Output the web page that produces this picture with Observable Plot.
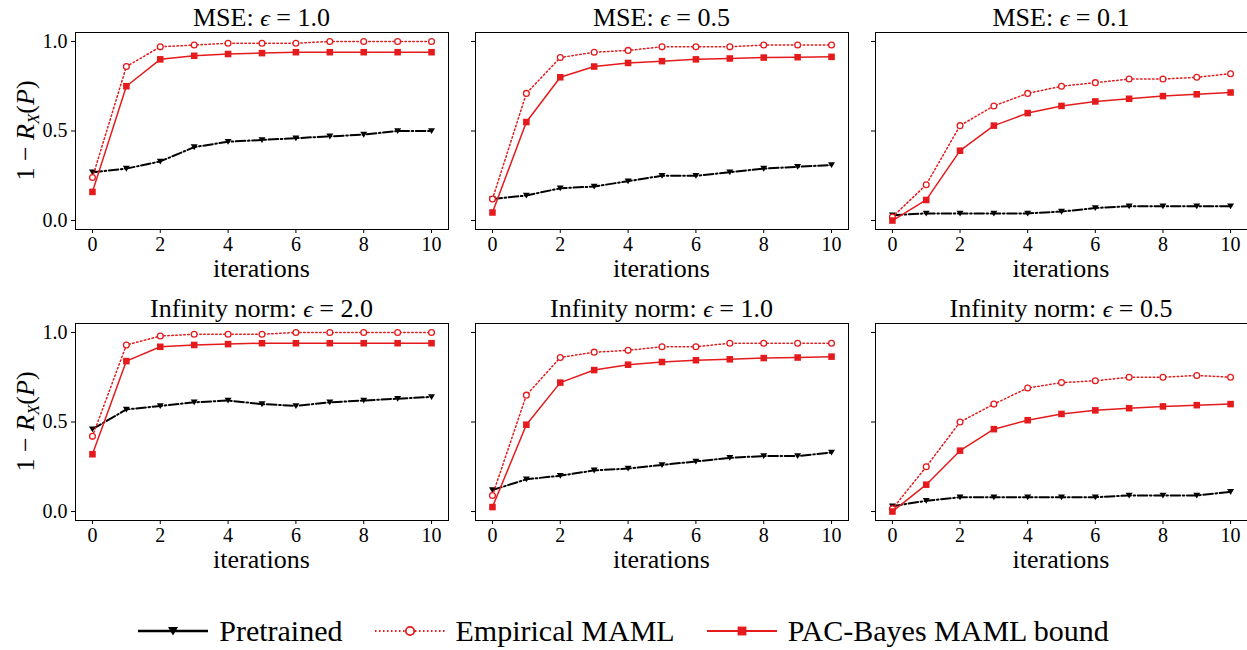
<!DOCTYPE html>
<html><head><meta charset="utf-8">
<script src="https://cdn.jsdelivr.net/npm/d3@7"></script>
<script src="https://cdn.jsdelivr.net/npm/@observablehq/plot@0.6"></script>
<style>
body{margin:0;background:#fff;}
#chart{position:relative;width:1247px;height:650px;font-family:'Liberation Serif',serif;overflow:hidden;}
#chart svg text{font-family:'Liberation Serif',serif;}
#legend{position:absolute;left:0;top:614px;height:34px;width:1247px;display:flex;justify-content:center;align-items:center;font-size:30px;line-height:34px;color:#000;font-family:'Liberation Serif',serif;}
#legend .item{display:flex;align-items:center;margin:0 16px;height:34px;}
#legend svg{margin-right:11px;}
</style></head><body><div id="chart"><div id="legend"></div></div>
<script>
const iterations = [0,1,2,3,4,5,6,7,8,9,10];
const xTicks = [0,2,4,6,8,10];
const yTicks = [0,0.5,1];
const seriesNames = ["Pretrained","Empirical MAML","PAC-Bayes MAML bound"];
const panelNorms = ["MSE","MSE","MSE","Infinity norm","Infinity norm","Infinity norm"];
const panelEps = ["1.0","0.5","0.1","2.0","1.0","0.5"];

// MSE, eps = 1.0
const mse10Pre = [0.27,0.29,0.33,0.41,0.44,0.45,0.46,0.47,0.48,0.50,0.50];
const mse10Emp = [0.24,0.86,0.97,0.98,0.99,0.99,0.99,1.00,1.00,1.00,1.00];
const mse10Pac = [0.16,0.75,0.90,0.92,0.93,0.935,0.94,0.94,0.94,0.94,0.94];
// MSE, eps = 0.5
const mse05Pre = [0.12,0.14,0.18,0.19,0.22,0.25,0.25,0.27,0.29,0.30,0.31];
const mse05Emp = [0.12,0.71,0.91,0.94,0.95,0.97,0.97,0.97,0.98,0.98,0.98];
const mse05Pac = [0.045,0.55,0.80,0.86,0.88,0.89,0.90,0.905,0.91,0.912,0.914];
// MSE, eps = 0.1
const mse01Pre = [0.03,0.04,0.04,0.04,0.04,0.05,0.07,0.08,0.08,0.08,0.08];
const mse01Emp = [0.02,0.20,0.53,0.64,0.71,0.75,0.77,0.79,0.79,0.80,0.82];
const mse01Pac = [0.0,0.115,0.39,0.53,0.60,0.64,0.665,0.68,0.695,0.705,0.715];
// Infinity norm, eps = 2.0
const inf20Pre = [0.46,0.57,0.59,0.61,0.62,0.60,0.59,0.61,0.62,0.63,0.64];
const inf20Emp = [0.42,0.93,0.98,0.99,0.99,0.99,1.00,1.00,1.00,1.00,1.00];
const inf20Pac = [0.32,0.84,0.92,0.93,0.935,0.94,0.94,0.94,0.94,0.94,0.94];
// Infinity norm, eps = 1.0
const inf10Pre = [0.12,0.18,0.20,0.23,0.24,0.26,0.28,0.30,0.31,0.31,0.33];
const inf10Emp = [0.09,0.65,0.86,0.89,0.90,0.92,0.92,0.94,0.94,0.94,0.94];
const inf10Pac = [0.025,0.485,0.72,0.79,0.82,0.835,0.845,0.85,0.857,0.86,0.865];
// Infinity norm, eps = 0.5
const inf05Pre = [0.03,0.06,0.08,0.08,0.08,0.08,0.08,0.09,0.09,0.09,0.11];
const inf05Emp = [0.015,0.25,0.50,0.60,0.69,0.72,0.73,0.75,0.75,0.76,0.75];
const inf05Pac = [0.0,0.15,0.34,0.46,0.51,0.545,0.565,0.577,0.587,0.594,0.60];

const panelSeries = [
  [mse10Pre, mse10Emp, mse10Pac],
  [mse05Pre, mse05Emp, mse05Pac],
  [mse01Pre, mse01Emp, mse01Pac],
  [inf20Pre, inf20Emp, inf20Pac],
  [inf10Pre, inf10Emp, inf10Pac],
  [inf05Pre, inf05Emp, inf05Pac]
];

const RED = "#e41a1c";
const FONT = "'Liberation Serif', serif";
const triangleDown = {
  draw(ctx, size) {
    const a = Math.sqrt(size / Math.PI);
    ctx.moveTo(0, a * 1.05);
    ctx.lineTo(-a * 1.2, -a * 0.95);
    ctx.lineTo(a * 1.2, -a * 0.95);
    ctx.closePath();
  }
};
const styles = [
  {line: {stroke: "#000", strokeWidth: 2, strokeDasharray: "9.6,2.6,1.6,2.6"}, legendDash: null, dot: {symbol: triangleDown, r: 2.9, fill: "#000", stroke: "none"}},
  {line: {stroke: RED, strokeWidth: 1.5, strokeDasharray: "1.5,2.5"}, legendDash: "1.5,2.5", dot: {symbol: "circle", r: 2.9, fill: "#fff", stroke: RED, strokeWidth: 1.3}},
  {line: {stroke: RED, strokeWidth: 1.5}, legendDash: null, dot: {symbol: "square", r: 3.7, fill: RED, stroke: "none"}}
];

const colLeft = [0, 460, 860], colWidth = [460, 400, 387], colML = [75, 15, 15], colMR = [12, 12, 0];
const rowTop = [0, 291];
const H = 290, MT = 32, MB = 61;
const chart = document.getElementById("chart");

panelSeries.forEach((series, k) => {
  const r = Math.floor(k / 3), c = k % 3;
  const ml = colML[c], mr = colMR[c], W = colWidth[c];
  const marks = [
    Plot.axisX({ticks: xTicks, tickSize: 4, tickPadding: 3, fontSize: 20, fontFamily: FONT, label: null}),
    Plot.axisY({ticks: yTicks, tickSize: 4, tickPadding: 4, fontSize: 20, fontFamily: FONT, label: null,
      tickFormat: c === 0 ? d => d.toFixed(1) : () => ""})
  ];
  series.forEach((vals, s) => {
    marks.push(Plot.line(vals, {x: (d, i) => iterations[i], y: d => d, ...styles[s].line}));
    marks.push(Plot.dot(vals, {x: (d, i) => iterations[i], y: d => d, ...styles[s].dot}));
  });
  marks.push(Plot.frame({stroke: "#000", strokeWidth: 1}));
  const svg = Plot.plot({
    width: W, height: H,
    marginLeft: ml, marginRight: mr, marginTop: MT, marginBottom: MB,
    x: {domain: [-0.5, 10.5]},
    y: {domain: [-0.05, 1.05]},
    style: {fontFamily: FONT, color: "#000", background: "transparent", overflow: "visible"},
    marks
  });
  svg.setAttribute("font-family", FONT);
  svg.style.position = "absolute";
  svg.style.left = colLeft[c] + "px";
  svg.style.top = rowTop[r] + "px";
  const sel = d3.select(svg);
  const cx = (ml + W - mr) / 2;
  // title
  const t = sel.append("text").attr("x", cx).attr("y", 26).attr("text-anchor", "middle")
    .attr("font-family", FONT).attr("font-size", 26).attr("fill", "#000");
  t.append("tspan").text(panelNorms[k] + ": ");
  t.append("tspan").attr("font-style", "italic").attr("font-size", 24).text("ϵ");
  t.append("tspan").text(" = " + panelEps[k]);
  // x label
  sel.append("text").attr("x", cx).attr("y", 277).attr("text-anchor", "middle")
    .attr("font-family", FONT).attr("font-size", 26).attr("fill", "#000").text("iterations");
  // y label
  if (c === 0) {
    const cy = MT + (H - MT - MB) / 2;
    const yl = sel.append("text").attr("transform", `translate(34,${cy}) rotate(-90)`)
      .attr("text-anchor", "middle").attr("font-family", FONT).attr("font-size", 26).attr("fill", "#000");
    yl.append("tspan").text("1 − ");
    yl.append("tspan").attr("font-style", "italic").text("R");
    yl.append("tspan").attr("font-style", "italic").attr("font-size", 17).attr("dy", 5).text("X");
    yl.append("tspan").attr("dy", -5).text("(");
    yl.append("tspan").attr("font-style", "italic").text("P");
    yl.append("tspan").text(")");
  }
  chart.appendChild(svg);
});

// legend
const legend = d3.select("#legend");
seriesNames.forEach((name, s) => {
  const it = legend.append("div").attr("class", "item");
  const sw = it.append("svg").attr("width", 70).attr("height", 22);
  const st = styles[s];
  sw.append("line").attr("x1", 0).attr("x2", 70).attr("y1", 11).attr("y2", 11)
    .attr("stroke", st.line.stroke).attr("stroke-width", st.line.strokeWidth + 0.5)
    .attr("stroke-dasharray", st.legendDash);
  const size = Math.PI * (st.dot.r + 1.3) * (st.dot.r + 1.3);
  const sym = typeof st.dot.symbol === "string" ? (st.dot.symbol === "circle" ? d3.symbolCircle : d3.symbolSquare) : st.dot.symbol;
  sw.append("path").attr("d", d3.symbol(sym, size)()).attr("transform", "translate(35,11)")
    .attr("fill", st.dot.fill).attr("stroke", st.dot.stroke).attr("stroke-width", (st.dot.strokeWidth || 0) + 0.5);
  it.append("span").text(name);
});
</script></body></html>
